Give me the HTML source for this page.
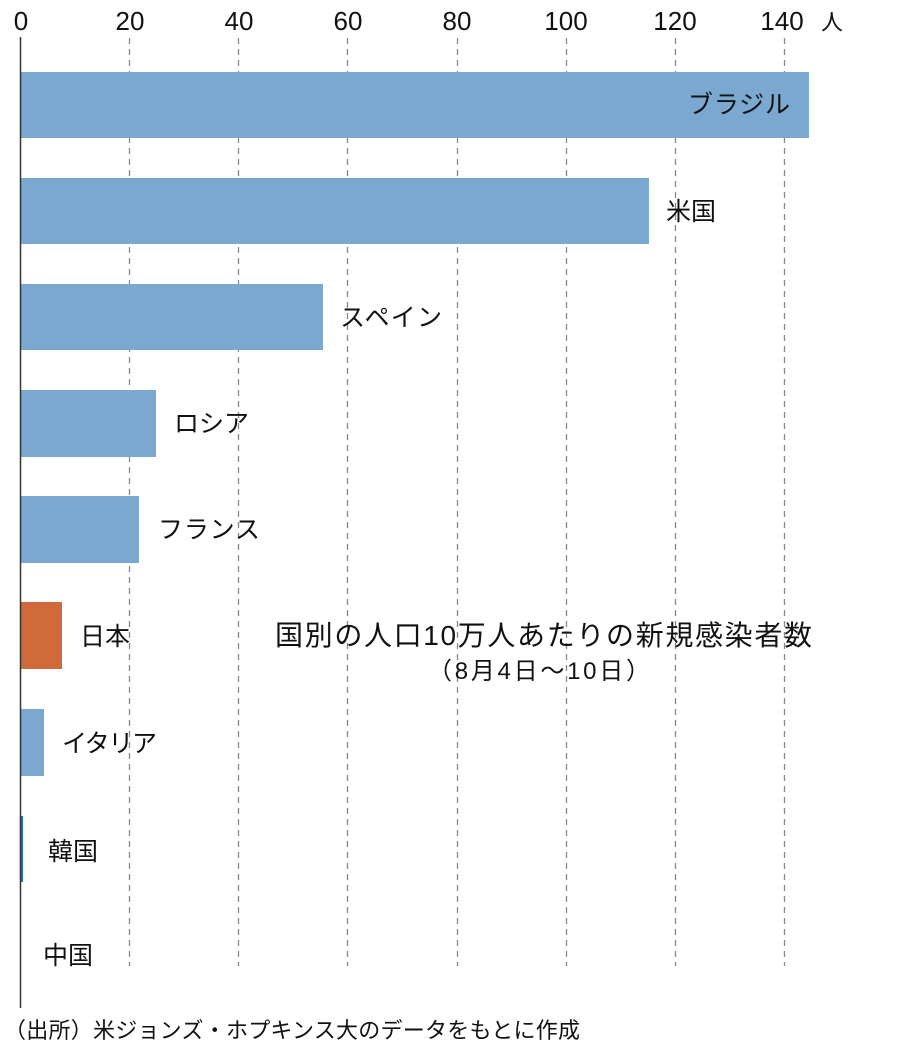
<!DOCTYPE html>
<html><head><meta charset="utf-8"><style>
body{margin:0;background:#fff;}
svg text{font-family:"Liberation Sans","Noto Sans CJK JP",sans-serif;fill:#111;}
</style></head><body>
<svg width="900" height="1043" viewBox="0 0 900 1043" xmlns="http://www.w3.org/2000/svg">
<g stroke="#888" stroke-width="1.3" stroke-dasharray="6,5">
<line x1="129.5" y1="38" x2="129.5" y2="966"/>
<line x1="238.5" y1="38" x2="238.5" y2="966"/>
<line x1="347.5" y1="38" x2="347.5" y2="966"/>
<line x1="457.5" y1="38" x2="457.5" y2="966"/>
<line x1="566.5" y1="38" x2="566.5" y2="966"/>
<line x1="675.5" y1="38" x2="675.5" y2="966"/>
<line x1="784.5" y1="38" x2="784.5" y2="966"/>
</g>
<g font-size="26" text-anchor="middle">
<text x="21" y="30">0</text><text x="130" y="30">20</text><text x="239" y="30">40</text>
<text x="348" y="30">60</text><text x="457" y="30">80</text><text x="566" y="30">100</text>
<text x="675" y="30">120</text><text x="782" y="30">140</text>
<text x="832" y="30" font-size="22">人</text>
</g>
<g fill="#7aa8d1">
<rect x="20" y="72" width="789" height="66"/>
<rect x="20" y="178" width="629" height="66"/>
<rect x="20" y="284" width="303" height="66"/>
<rect x="20" y="390" width="136" height="67"/>
<rect x="20" y="496" width="119" height="67"/>
<rect x="20" y="709" width="24" height="67"/>
</g>
<rect x="20" y="602" width="42" height="67" fill="#d06a3a"/>
<rect x="20" y="816" width="3" height="66" fill="#1f7a9a"/>
<line x1="20.5" y1="37" x2="20.5" y2="1008" stroke="#333" stroke-width="1.5"/>
<g font-size="25">
<text x="688" y="113" textLength="102">ブラジル</text>
<text x="666" y="220">米国</text>
<text x="340" y="326" textLength="102">スペイン</text>
<text x="174" y="432">ロシア</text>
<text x="158" y="538" textLength="102">フランス</text>
<text x="80" y="645">日本</text>
<text x="62" y="752" textLength="95">イタリア</text>
<text x="48" y="860">韓国</text>
<text x="43" y="964">中国</text>
<text x="275" y="645" font-size="28" textLength="537">国別の人口10万人あたりの新規感染者数</text>
<text x="428" y="679" font-size="24" textLength="222">（8月4日～10日）</text>
</g>
<text x="4" y="1038" font-size="22" textLength="576">（出所）米ジョンズ・ホプキンス大のデータをもとに作成</text>
</svg>
</body></html>
